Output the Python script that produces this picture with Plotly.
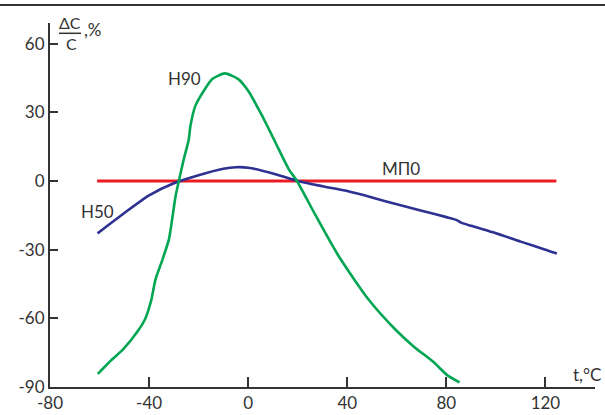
import plotly.graph_objects as go

# ---- data ----
h90_t = [-60.7, -55, -50.5, -44.7, -41.6, -39.2, -37.4, -34.5, -32, -29.3, -28, -26, -24, -23.3,
         -21.3, -17.9, -14.5, -9.4, -4, 0, 5.6, 11, 16.4, 19.7, 27, 36.5, 48.6, 59.5, 67, 74.7, 80.2, 85.3]
h90_v = [-84.3, -78, -73.6, -65.8, -60.3, -52.4, -43, -34, -25.5, -6.6, 0, 9.5, 18, 24.1,
         32.9, 39.4, 44.5, 47, 44.5, 39.4, 28.5, 16.8, 5.1, 0, -14.6, -32.8, -51.8, -65, -72.5, -79, -84.7, -88]

h50_t = [-60.8, -50, -40, -30, -20, -10, -5, 0, 10, 20, 30, 40, 50, 60, 70, 80, 84, 86, 90, 100, 110, 120, 124.6]
h50_v = [-22.9, -14, -6.3, -1, 2.5, 5.3, 6, 5.8, 3.3, 0, -2.3, -4.4, -7.2, -10.2, -13, -15.8, -17, -18.2, -19.6, -22.8, -26.5, -30, -31.7]

mp0_t = [-61, 124.4]
mp0_v = [0, 0]

x_ticks = [-80, -40, 0, 40, 80, 120]
x_tick_labels = ["-80", "-40", "0", "40", "80", "120"]
y_ticks = [60, 30, 0, -30, -60, -90]
y_tick_labels = ["60", "30", "0", "-30", "-60", "-90"]

FONT = "Lato"
INK = "#333333"

L, R, T, B = 50, 10, 23, 28
PW, PH = 605 - L - R, 415 - T - B


def px(xp):
    return (xp - L) / PW


def py(yp):
    return (415 - B - yp) / PH


def label(text, x, y, size=17):
    return dict(text=text, x=px(x), y=py(y), xref="paper", yref="paper",
                xanchor="center", yanchor="middle", showarrow=False,
                font=dict(size=size, color=INK))


fig = go.Figure()
fig.add_trace(go.Scatter(x=mp0_t, y=mp0_v, mode="lines",
                         line=dict(color="#ed1c24", width=3), showlegend=False))
fig.add_trace(go.Scatter(x=h50_t, y=h50_v, mode="lines",
                         line=dict(color="#2e3192", width=2.6, shape="spline", smoothing=0.6),
                         showlegend=False))
fig.add_trace(go.Scatter(x=h90_t, y=h90_v, mode="lines",
                         line=dict(color="#00a651", width=2.6, shape="spline", smoothing=0.6),
                         showlegend=False))

fig.update_layout(
    width=605, height=415, autosize=False,
    margin=dict(l=L, r=R, t=T, b=B, pad=0),
    paper_bgcolor="white", plot_bgcolor="white",
    font=dict(family=FONT, size=16, color=INK),
    xaxis=dict(range=[-80, 140], tickvals=x_ticks, ticktext=x_tick_labels, automargin=False,
               ticks="inside", ticklen=10, tickwidth=2, tickcolor=INK,
               showline=True, linecolor=INK, linewidth=2, showgrid=False, zeroline=False,
               tickfont=dict(size=17, color=INK)),
    yaxis=dict(range=[-90, 69], tickvals=y_ticks, ticktext=y_tick_labels, automargin=False,
               ticks="inside", ticklen=8, tickwidth=2, tickcolor=INK,
               showline=True, linecolor=INK, linewidth=2, showgrid=False, zeroline=False,
               tickfont=dict(size=17, color=INK)),
    shapes=[
        dict(type="line", xref="paper", yref="paper", x0=px(59), x1=px(81),
             y0=py(33.3), y1=py(33.3), line=dict(color=INK, width=1.5)),
    ],
    annotations=[
        # rule across the top of the picture
        dict(text=" ", x=px(302.5), y=py(4.7), xref="paper", yref="paper",
             xanchor="center", yanchor="middle", showarrow=False,
             width=605, height=2, borderpad=0, borderwidth=0, bgcolor=INK,
             font=dict(size=1, color=INK)),
        dict(text="Н90", x=-25.6, y=44.8, xref="x", yref="y", showarrow=False,
             font=dict(size=17, color=INK)),
        dict(text="Н50", x=-60.8, y=-13.3, xref="x", yref="y", showarrow=False,
             font=dict(size=17, color=INK)),
        dict(text="МП0", x=61.5, y=5.4, xref="x", yref="y", showarrow=False,
             font=dict(size=17, color=INK)),
        label("ΔC", 70, 22.5, 16),
        label("C", 71, 43.5, 16),
        label(",%", 93, 29.5, 17),
        label("t,°C", 587, 374, 17),
    ],
)

fig.write_html("out.html", config={"displayModeBar": False},
               post_script="document.body.style.margin='0';document.body.style.overflow='hidden';")
